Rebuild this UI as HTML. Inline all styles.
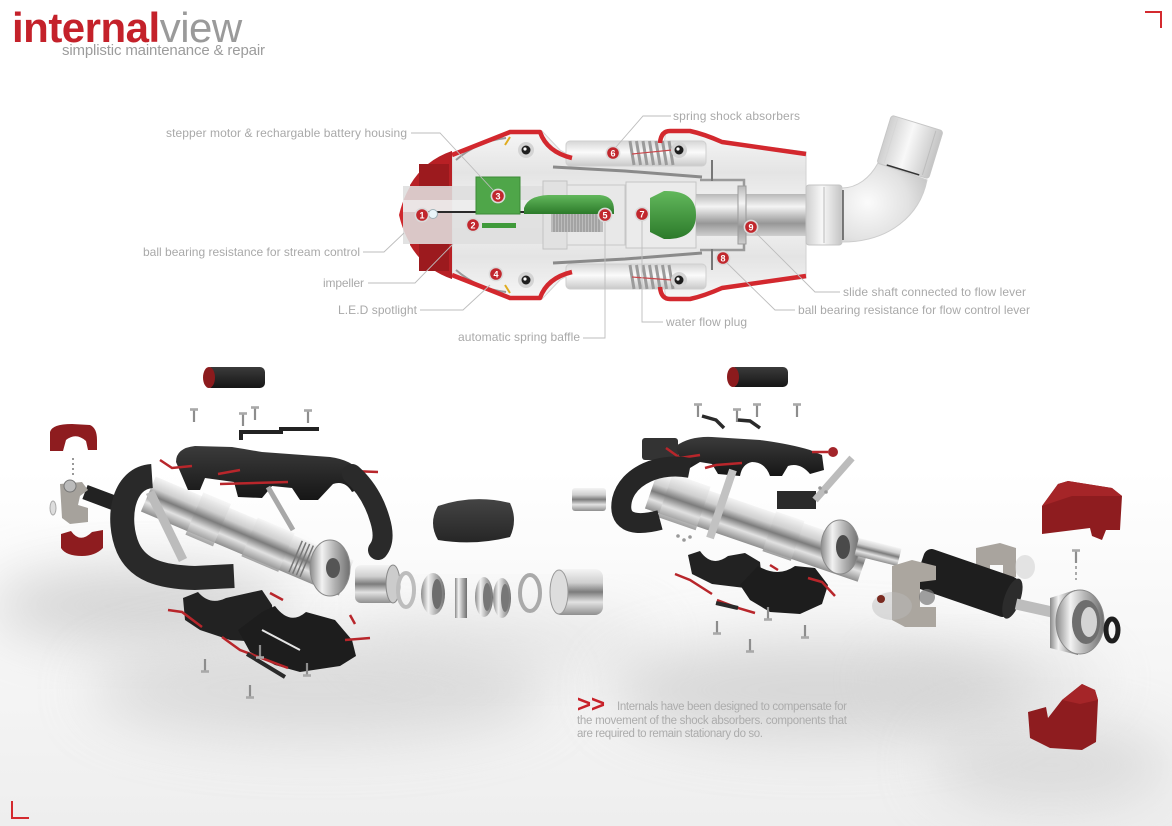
<!DOCTYPE html>
<html><head><meta charset="utf-8">
<style>
html,body{margin:0;padding:0;background:#fff;}
svg{display:block;}
text{font-family:"Liberation Sans",Arial,sans-serif;}
</style></head><body>
<svg width="1172" height="826" viewBox="0 0 1172 826" xmlns="http://www.w3.org/2000/svg">
<defs>
 <linearGradient id="floor" x1="0" y1="0" x2="0" y2="1">
  <stop offset="0" stop-color="#ffffff"/><stop offset="1" stop-color="#eeeeee"/>
 </linearGradient>
 <filter id="b30" x="-60%" y="-60%" width="220%" height="220%"><feGaussianBlur stdDeviation="28"/></filter>
 <filter id="b10" x="-60%" y="-60%" width="220%" height="220%"><feGaussianBlur stdDeviation="10"/></filter>
 <linearGradient id="met" x1="0" y1="0" x2="0" y2="1">
  <stop offset="0" stop-color="#f4f4f4"/><stop offset=".3" stop-color="#cfcfcf"/><stop offset=".5" stop-color="#7c7c7c"/><stop offset=".72" stop-color="#e2e2e2"/><stop offset="1" stop-color="#8f8f8f"/>
 </linearGradient>
 <linearGradient id="metH" x1="0" y1="0" x2="1" y2="0">
  <stop offset="0" stop-color="#8a8a8a"/><stop offset=".3" stop-color="#f2f2f2"/><stop offset=".6" stop-color="#b5b5b5"/><stop offset="1" stop-color="#6f6f6f"/>
 </linearGradient>
 <linearGradient id="blk" x1="0" y1="0" x2="0" y2="1">
  <stop offset="0" stop-color="#3b3b3b"/><stop offset="1" stop-color="#161616"/>
 </linearGradient>
 <linearGradient id="pad" x1="0" y1="0" x2="0" y2="1">
  <stop offset="0" stop-color="#444"/><stop offset="1" stop-color="#262626"/>
 </linearGradient>
 <linearGradient id="tube" x1="0" y1="0" x2="0" y2="1">
  <stop offset="0" stop-color="#d6d6d6"/><stop offset=".45" stop-color="#fbfbfb"/><stop offset="1" stop-color="#c9c9c9"/>
 </linearGradient>
 <linearGradient id="tubeH" x1="0" y1="0" x2="1" y2="0">
  <stop offset="0" stop-color="#cfcfcf"/><stop offset=".45" stop-color="#f8f8f8"/><stop offset="1" stop-color="#c4c4c4"/>
 </linearGradient>
 <linearGradient id="bodyG" x1="0" y1="0" x2="0" y2="1">
  <stop offset="0" stop-color="#f6f6f6"/><stop offset=".25" stop-color="#e4e4e4"/><stop offset=".5" stop-color="#f5f5f5"/><stop offset=".75" stop-color="#e4e4e4"/><stop offset="1" stop-color="#f6f6f6"/>
 </linearGradient>
 <linearGradient id="green" x1="0" y1="0" x2="0" y2="1">
  <stop offset="0" stop-color="#62b85c"/><stop offset="1" stop-color="#2c7a2a"/>
 </linearGradient>
 <linearGradient id="shaft" x1="0" y1="0" x2="0" y2="1">
  <stop offset="0" stop-color="#b8b8b8"/><stop offset=".3" stop-color="#f4f4f4"/><stop offset=".7" stop-color="#979797"/><stop offset="1" stop-color="#cfcfcf"/>
 </linearGradient>
 <radialGradient id="elb" cx="0.3" cy="0.5" r="0.8">
  <stop offset="0" stop-color="#fbfbfb"/><stop offset=".6" stop-color="#e2e2e2"/><stop offset="1" stop-color="#c2c2c2"/>
 </radialGradient>
 <g id="scr"><line x1="0" y1="0" x2="0" y2="13" stroke="#8d8d8d" stroke-width="2.2"/><line x1="-4" y1="0.5" x2="4" y2="0.5" stroke="#a9a9a9" stroke-width="2.6"/></g>
 <g id="mk"><circle r="6.6" fill="#c1272d" stroke="#dadada" stroke-width="1.6"/></g>
</defs>

<!-- background -->
<rect width="1172" height="826" fill="#fff"/>
<rect x="0" y="470" width="1172" height="356" fill="url(#floor)"/>
<ellipse cx="140" cy="605" rx="150" ry="38" fill="#b5b5b5" opacity=".55" filter="url(#b30)"/>
<ellipse cx="320" cy="690" rx="230" ry="50" fill="#c6c6c6" opacity=".55" filter="url(#b30)"/>
<ellipse cx="500" cy="640" rx="160" ry="30" fill="#d2d2d2" opacity=".45" filter="url(#b30)"/>
<ellipse cx="820" cy="690" rx="210" ry="50" fill="#bfbfbf" opacity=".55" filter="url(#b30)"/>
<ellipse cx="1050" cy="765" rx="120" ry="40" fill="#c4c4c4" opacity=".5" filter="url(#b30)"/>
<ellipse cx="990" cy="680" rx="120" ry="30" fill="#d0d0d0" opacity=".45" filter="url(#b30)"/>

<!-- header -->
<text x="12" y="42" font-size="42"><tspan font-weight="bold" fill="#c4212a" letter-spacing="-0.5">internal</tspan><tspan fill="#9a9a9a" letter-spacing="-0.5">view</tspan></text>
<text x="62" y="55" font-size="15" fill="#9c9c9c" textLength="203">simplistic maintenance &amp; repair</text>

<!-- corners -->
<path d="M1145,12 L1161,12 L1161,28" stroke="#d42a2f" stroke-width="2" fill="none"/>
<path d="M12,801 L12,818 L29,818" stroke="#d42a2f" stroke-width="2" fill="none"/>

<!-- ============ TOP DIAGRAM ============ -->
<g>
 <path d="M452,153 L510,131 L542,131 L560,150 L572,157 L662,157 L666,131 L692,131 L722,141 L806,152 L806,278 L722,289 L692,299 L666,299 L662,273 L572,273 L560,280 L542,299 L510,299 L452,277 Z" fill="url(#bodyG)" stroke="#d2d2d2"/>
 <rect x="566" y="141" width="140" height="25" rx="4" fill="url(#tube)" stroke="#cfcfcf"/>
 <rect x="566" y="264" width="140" height="25" rx="4" fill="url(#tube)" stroke="#cfcfcf"/>
 <g stroke="#9b9b9b" stroke-width="3">
  <path d="M630,141 L634,165 M636.5,141 L640.5,165 M643,141 L647,165 M649.5,141 L653.5,165 M656,141 L660,165 M662.5,141 L666.5,165 M669,141 L673,165"/>
  <path d="M630,265 L634,289 M636.5,265 L640.5,289 M643,265 L647,289 M649.5,265 L653.5,289 M656,265 L660,289 M662.5,265 L666.5,289 M669,265 L673,289"/>
 </g>
 <path d="M632,154 L672,150 M632,277 L672,280" stroke="#c9474b" stroke-width="1.2"/>
 <g>
  <circle cx="526" cy="150" r="8" fill="#d4d4d4"/><circle cx="526" cy="150" r="4.5" fill="#1e1e1e"/><circle cx="525" cy="149" r="1.6" fill="#fff"/>
  <circle cx="679" cy="150" r="8" fill="#d4d4d4"/><circle cx="679" cy="150" r="4.5" fill="#1e1e1e"/><circle cx="678" cy="149" r="1.6" fill="#fff"/>
  <circle cx="526" cy="280" r="8" fill="#d4d4d4"/><circle cx="526" cy="280" r="4.5" fill="#1e1e1e"/><circle cx="525" cy="279" r="1.6" fill="#fff"/>
  <circle cx="679" cy="280" r="8" fill="#d4d4d4"/><circle cx="679" cy="280" r="4.5" fill="#1e1e1e"/><circle cx="678" cy="279" r="1.6" fill="#fff"/>
 </g>
 <path d="M456,160 Q478,141 506,138" stroke="#9a9a9a" stroke-width="2" fill="none"/>
 <path d="M456,270 Q478,289 506,292" stroke="#9a9a9a" stroke-width="2" fill="none"/>
 <path d="M505,145 L510,137 M505,285 L510,293" stroke="#e0ac20" stroke-width="2"/>
 <g stroke="#d3282e" stroke-width="4.5" fill="none" stroke-linejoin="round">
  <path d="M452,155 L510,132 L540,132 Q547,152 572,158"/>
  <path d="M660,143 Q661,131 670,131 L690,131 Q704,134 722,142 L806,154"/>
 </g>
 <g stroke="#d3282e" stroke-width="4.5" fill="none" stroke-linejoin="round" transform="matrix(1 0 0 -1 0 430)">
  <path d="M452,155 L510,132 L540,132 Q547,152 572,158"/>
  <path d="M660,143 Q661,131 670,131 L690,131 Q704,134 722,142 L806,154"/>
 </g>
 <path d="M452,151 L452,279 Q410,262 399,215 Q410,168 452,151 Z" fill="#cf272d"/>
 <path d="M452,151 Q425,160 410,185 L410,245 Q425,270 452,279 Z" fill="#b82025"/>
 <rect x="419" y="164" width="30" height="24" fill="#9c1a1e"/>
 <rect x="419" y="244" width="30" height="27" fill="#9c1a1e"/>
 <rect x="403" y="186" width="145" height="58" fill="#dedede" opacity=".88"/>
 <rect x="403" y="200" width="145" height="12" fill="#f2f2f2" opacity=".7"/>
 <line x1="418" y1="212" x2="545" y2="212" stroke="#2a2a2a" stroke-width="2"/>
 <circle cx="433" cy="214" r="4.5" fill="#e9f5f9" stroke="#9fb2b8"/>
 <rect x="543" y="181" width="24" height="68" fill="#e1e1e1" stroke="#c2c2c2"/>
 <rect x="567" y="185" width="58" height="60" fill="#e8e8e8" stroke="#c8c8c8"/>
 <rect x="626" y="182" width="70" height="66" fill="#ebebeb" stroke="#c4c4c4"/>
 <path d="M553,167 L625,171 L702,177" stroke="#8a8a8a" stroke-width="3" fill="none"/>
 <path d="M553,263 L625,259 L702,253" stroke="#8a8a8a" stroke-width="3" fill="none"/>
 <rect x="696" y="194" width="110" height="42" fill="url(#shaft)"/>
 <rect x="738" y="186" width="8" height="58" fill="url(#shaft)" stroke="#9a9a9a"/>
 <path d="M700,180 L744,180 L744,186 M700,250 L744,250 L744,244" stroke="#9a9a9a" stroke-width="2.5" fill="none"/>
 <path d="M712,160 L712,181 M712,249 L712,270" stroke="#777" stroke-width="2"/>
 <rect x="476" y="177" width="44" height="37" fill="#4fa649" stroke="#3c8a37"/>
 <rect x="482" y="223" width="34" height="5" fill="#3f9a3a"/>
 <path d="M524,208 Q528,196 548,195 L600,195 Q614,196 614,210 L614,214 L524,214 Z" fill="url(#green)"/>
 <rect x="551" y="214" width="52" height="18" fill="#bcbcbc"/>
 <path d="M554,214 V232 M557,214 V232 M560,214 V232 M563,214 V232 M566,214 V232 M569,214 V232 M572,214 V232 M575,214 V232 M578,214 V232 M581,214 V232 M584,214 V232 M587,214 V232 M590,214 V232 M593,214 V232 M596,214 V232 M599,214 V232" stroke="#8a8a8a" stroke-width="1"/>
 <path d="M650,198 L664,191 Q696,190 696,215 Q696,240 664,239 L650,232 Z" fill="url(#green)"/>
 <rect x="806" y="185" width="36" height="60" rx="3" fill="url(#tubeH)" stroke="#c4c4c4"/>
 <line x1="824" y1="187" x2="824" y2="243" stroke="#bdbdbd"/>
 <path d="M842,188 C857,188 870,178 878,163 L927,180 C920,215 890,242 842,242 Z" fill="url(#elb)" stroke="#cdcdcd"/>
 <line x1="843" y1="190" x2="843" y2="240" stroke="#555" stroke-width="1.5"/>
 <g transform="rotate(17 910 147)">
  <rect x="883" y="122" width="54" height="50" rx="3" fill="url(#tubeH)" stroke="#c6c6c6"/>
  <line x1="890" y1="124" x2="890" y2="170" stroke="#d6d6d6"/>
  <line x1="930" y1="124" x2="930" y2="170" stroke="#bdbdbd"/>
  <line x1="893" y1="171" x2="927" y2="171" stroke="#333" stroke-width="1.5"/>
 </g>
 <g font-size="9" font-weight="bold" fill="#fff" text-anchor="middle">
  <use href="#mk" x="422" y="215"/><text x="422" y="218.3">1</text>
  <use href="#mk" x="473" y="225"/><text x="473" y="228.3">2</text>
  <use href="#mk" x="498" y="196"/><text x="498" y="199.3">3</text>
  <use href="#mk" x="496" y="274"/><text x="496" y="277.3">4</text>
  <use href="#mk" x="605" y="215"/><text x="605" y="218.3">5</text>
  <use href="#mk" x="613" y="153"/><text x="613" y="156.3">6</text>
  <use href="#mk" x="642" y="214"/><text x="642" y="217.3">7</text>
  <use href="#mk" x="723" y="258"/><text x="723" y="261.3">8</text>
  <use href="#mk" x="751" y="227"/><text x="751" y="230.3">9</text>
 </g>
 <g stroke="#bdbdbd" stroke-width="0.9" fill="none">
  <path d="M411,133 L440,133 L493,190"/>
  <path d="M363,252 L384,252 L404,233"/>
  <path d="M368,283 L415,283 L453,244"/>
  <path d="M420,310 L463,310 L490,285"/>
  <path d="M583,338 L605,338 L605,222"/>
  <path d="M671,116 L643,116 L616,147"/>
  <path d="M663,322 L642,322 L642,221"/>
  <path d="M840,292 L815,292 L755,232"/>
  <path d="M795,310 L775,310 L727,263"/>
 </g>
 <g font-size="12" fill="#a9a9a9">
  <text x="166" y="137" textLength="241">stepper motor &amp; rechargable battery housing</text>
  <text x="143" y="256" textLength="217">ball bearing resistance for stream control</text>
  <text x="323" y="287" textLength="41">impeller</text>
  <text x="338" y="314" textLength="79">L.E.D spotlight</text>
  <text x="458" y="341" textLength="122">automatic spring baffle</text>
  <text x="673" y="120" textLength="127">spring shock absorbers</text>
  <text x="666" y="326" textLength="81">water flow plug</text>
  <text x="843" y="296" textLength="183">slide shaft connected to flow lever</text>
  <text x="798" y="314" textLength="232">ball bearing resistance for flow control lever</text>
 </g>
</g>

<!-- ============ LEFT EXPLODED ============ -->
<g>
 <rect x="206" y="367" width="59" height="21" rx="5" fill="url(#blk)"/>
 <ellipse cx="209" cy="377.5" rx="6" ry="10.5" fill="#8c1b1d"/>
 <use href="#scr" x="194" y="409"/><use href="#scr" x="243" y="413"/><use href="#scr" x="255" y="407"/><use href="#scr" x="308" y="410"/>
 <path d="M241,440 L241,432 L281,432 L281,429 L319,429" stroke="#222" stroke-width="4" fill="none"/>
 <path d="M50,451 L50,432 Q52,424 72,424 L90,425 Q97,428 97,440 L97,450 L88,450 L86,441 Q76,432 66,440 L63,451 Z" fill="#8e1c1f"/>
 <path d="M61,534 L71,531 Q80,544 92,532 L103,530 L103,548 Q95,556 82,556 Q66,556 61,548 Z" fill="#8e1c1f"/>
 <line x1="73" y1="458" x2="73" y2="475" stroke="#999" stroke-width="2" stroke-dasharray="2 3"/>
 <line x1="85" y1="492" x2="125" y2="507" stroke="#222" stroke-width="15"/>
 <path d="M60,484 L82,482 L88,490 L80,496 L78,505 L88,508 L88,522 L70,524 L62,518 Z" fill="#a6a29c"/>
 <circle cx="70" cy="486" r="6" fill="#bbb" stroke="#777"/>
 <ellipse cx="53" cy="508" rx="3" ry="7" fill="#ddd" stroke="#aaa"/>
 <path d="M176,462 Q176,448 195,446 L232,447 Q250,450 262,452 L330,457 Q352,460 360,472 L362,488 L352,492 Q345,480 333,484 L318,500 L300,500 L292,488 L272,486 L262,498 L238,497 L234,482 L205,478 L200,490 L188,490 L182,476 Z" fill="url(#blk)"/>
 <path d="M160,460 L172,468 L192,466 M218,474 L240,470 M220,484 L288,482 M352,471 L378,472" stroke="#b8262b" stroke-width="2.5" fill="none"/>
 <line x1="268" y1="487" x2="293" y2="530" stroke="#a8a8a8" stroke-width="5"/>
 <g transform="rotate(23 245 535)">
  <rect x="140" y="516" width="215" height="38" fill="url(#met)"/>
  <rect x="190" y="512" width="30" height="46" fill="url(#met)" opacity=".8"/>
  <rect x="250" y="514" width="40" height="42" fill="url(#met)" opacity=".8"/>
  <path d="M300,518 V552 M304,518 V552 M308,518 V552 M312,518 V552" stroke="#777" stroke-width="1.5"/>
 </g>
 <ellipse cx="330" cy="568" rx="20" ry="28" fill="url(#metH)" stroke="#8a8a8a"/>
 <ellipse cx="333" cy="568" rx="7" ry="10" fill="#555"/>
 <line x1="150" y1="492" x2="183" y2="560" stroke="#bcbcbc" stroke-width="9"/>
 <path d="M152,476 C122,478 116,520 128,548 C138,570 160,577 195,578 L234,576" stroke="#292929" stroke-width="24" fill="none"/>
 <path d="M352,474 Q372,492 380,520 Q386,540 378,550" stroke="#2a2a2a" stroke-width="20" fill="none" stroke-linecap="round"/>
 <rect x="355" y="565" width="40" height="38" rx="6" fill="url(#met)"/>
 <ellipse cx="393" cy="584" rx="7" ry="19" fill="#ccc" stroke="#888"/>
 <ellipse cx="406" cy="590" rx="8" ry="17" fill="none" stroke="#bdbdbd" stroke-width="4"/>
 <ellipse cx="433" cy="594" rx="12" ry="21" fill="url(#metH)"/><ellipse cx="437" cy="594" rx="5" ry="15" fill="#6d6d6d"/>
 <rect x="455" y="578" width="12" height="40" fill="url(#metH)"/>
 <ellipse cx="484" cy="597" rx="9" ry="20" fill="url(#metH)"/><ellipse cx="487" cy="597" rx="4" ry="14" fill="#777"/>
 <ellipse cx="502" cy="598" rx="9" ry="20" fill="url(#metH)"/><ellipse cx="505" cy="598" rx="4" ry="14" fill="#777"/>
 <ellipse cx="530" cy="593" rx="10" ry="18" fill="none" stroke="#aaa" stroke-width="4"/>
 <rect x="553" y="569" width="50" height="46" rx="8" fill="url(#met)"/>
 <ellipse cx="559" cy="592" rx="9" ry="22" fill="#ddd" stroke="#999"/>
 <!-- pad + small cylinder -->
 <path d="M438,506 Q474,494 510,503 Q518,520 510,537 Q474,546 438,540 Q428,523 438,506 Z" fill="url(#pad)"/>
 <rect x="572" y="488" width="34" height="23" rx="3" fill="url(#met)"/>
 <path d="M183,598 L198,592 Q210,606 226,598 L262,590 L272,605 L274,636 L262,642 L230,640 L200,630 L185,620 Z" fill="#222"/>
 <path d="M238,630 L262,612 L275,606 Q290,626 306,612 L335,620 L352,640 L356,656 L340,666 L300,672 L275,665 L250,652 Z" fill="#1d1d1d"/>
 <path d="M262,630 L300,650" stroke="#e5e5e5" stroke-width="2"/>
 <path d="M168,610 L182,612 L202,627 M222,637 L240,650 L288,668 M270,593 L283,600 M345,640 L370,638 M355,624 L350,615" stroke="#b8262b" stroke-width="2.5" fill="none"/>
 <path d="M247,654 L285,677" stroke="#2a2a2a" stroke-width="4"/>
 <use href="#scr" transform="translate(205,672) scale(1,-1)"/>
 <use href="#scr" transform="translate(307,676) scale(1,-1)"/>
 <use href="#scr" transform="translate(250,698) scale(1,-1)"/>
 <use href="#scr" transform="translate(260,658) scale(1,-1)"/>
</g>

<!-- ============ RIGHT EXPLODED ============ -->
<g>
 <rect x="730" y="367" width="58" height="20" rx="5" fill="url(#blk)"/>
 <ellipse cx="733" cy="377" rx="6" ry="10" fill="#8c1b1d"/>
 <use href="#scr" x="698" y="404"/><use href="#scr" x="737" y="409"/><use href="#scr" x="757" y="404"/><use href="#scr" x="797" y="404"/>
 <path d="M702,416 L716,420 L724,428 M738,420 L750,421 L760,428" stroke="#2a2a2a" stroke-width="3.5" fill="none"/>
 <rect x="642" y="438" width="36" height="22" rx="3" fill="#333"/>
 <path d="M676,446 Q690,436 712,437 L760,440 Q790,444 810,450 L822,455 L824,470 L810,474 Q800,462 788,466 L782,476 L770,476 Q765,462 752,462 Q742,464 740,476 L718,474 L712,464 L700,462 L690,468 L680,462 Z" fill="url(#blk)"/>
 <circle cx="833" cy="452" r="5" fill="#a3252a"/>
 <path d="M666,448 L680,458 L700,455 M705,468 L716,465 L742,463 M812,452 L828,452" stroke="#b8262b" stroke-width="2.5" fill="none"/>
 <g transform="rotate(19 757 527)">
  <rect x="645" y="508" width="225" height="38" fill="url(#met)"/>
  <rect x="660" y="504" width="40" height="46" fill="url(#met)" opacity=".85"/>
  <rect x="770" y="506" width="30" height="42" fill="url(#met)" opacity=".85"/>
 </g>
 <ellipse cx="840" cy="547" rx="19" ry="27" fill="url(#metH)" stroke="#8a8a8a"/>
 <ellipse cx="843" cy="547" rx="7" ry="12" fill="#4a4a4a"/>
 <path d="M690,468 C660,462 628,475 622,500 C618,520 630,528 660,520" stroke="#262626" stroke-width="20" fill="none"/>
 <line x1="733" y1="470" x2="710" y2="538" stroke="#c2c2c2" stroke-width="8"/>
 <line x1="777" y1="500" x2="816" y2="500" stroke="#2a2a2a" stroke-width="18"/>
 <line x1="815" y1="500" x2="852" y2="458" stroke="#bcbcbc" stroke-width="7"/>
 <g transform="rotate(14 878 552)"><rect x="856" y="543" width="44" height="18" fill="url(#met)"/></g>
 <path d="M976,548 L1000,543 L1016,548 L1016,577 L1003,577 L1003,565 L990,565 L990,577 L976,577 Z" fill="#a9a49e"/>
 <g transform="rotate(19 967 583)">
  <rect x="917" y="562" width="100" height="42" rx="8" fill="#1e1e1e"/>
  <ellipse cx="1015" cy="583" rx="8" ry="21" fill="#2c2c2c"/>
 </g>
 <path d="M892,566 L912,560 L936,566 L936,580 L920,582 L920,607 L936,607 L936,627 L905,627 L892,620 Z" fill="#aba69f"/>
 <circle cx="927" cy="597" r="8" fill="#777" opacity=".7"/>
 <ellipse cx="892" cy="606" rx="20" ry="14" fill="#bbb" opacity=".45"/>
 <circle cx="881" cy="599" r="4" fill="#7a2a20"/>
 <ellipse cx="1025" cy="567" rx="10" ry="12" fill="#ccc" opacity=".5"/>
 <line x1="1016" y1="604" x2="1052" y2="612" stroke="#bdbdbd" stroke-width="11"/>
 <path d="M1050,598 L1075,590 L1078,655 L1050,648 Z" fill="url(#metH)"/>
 <ellipse cx="1080" cy="622" rx="24" ry="32" fill="url(#metH)" stroke="#8a8a8a"/>
 <ellipse cx="1086" cy="622" rx="14" ry="22" fill="#6e6e6e"/>
 <ellipse cx="1089" cy="622" rx="8" ry="15" fill="#d4d4d4"/>
 <ellipse cx="1112" cy="630" rx="6" ry="11" fill="none" stroke="#1e1e1e" stroke-width="5"/>
 <use href="#scr" x="1076" y="550"/>
 <line x1="1076" y1="566" x2="1076" y2="580" stroke="#aaa" stroke-width="2" stroke-dasharray="3 3"/>
 <path d="M1042,506 L1058,484 L1068,481 L1112,488 L1122,496 L1120,530 L1106,530 L1102,540 L1092,536 L1090,528 L1058,532 L1042,534 Z" fill="#8e1c1f"/>
 <path d="M1058,484 L1068,481 L1112,488 L1122,496 L1072,496 L1042,506 Z" fill="#a52528"/>
 <path d="M1028,712 L1046,707 L1048,718 L1062,700 L1082,684 L1095,690 L1098,700 L1096,742 L1082,750 L1050,748 L1030,738 Z" fill="#8e1c1f"/>
 <path d="M1062,700 L1082,684 L1095,690 L1098,700 L1080,704 Z" fill="#a52528"/>
 <path d="M688,555 L700,551 Q712,568 728,556 L745,553 L760,562 L762,580 L745,588 L712,584 L692,574 Z" fill="#222"/>
 <path d="M740,585 L758,566 Q778,578 795,566 L815,568 L828,585 L822,604 L800,614 L770,612 L750,600 Z" fill="#1d1d1d"/>
 <path d="M675,574 L690,580 L712,594 M717,600 L738,608 L755,613 M808,578 L822,582 L835,596 M770,565 L778,570" stroke="#b8262b" stroke-width="2.5" fill="none"/>
 <path d="M716,603 L738,608" stroke="#2a2a2a" stroke-width="4"/>
 <use href="#scr" transform="translate(717,634) scale(1,-1)"/>
 <use href="#scr" transform="translate(750,652) scale(1,-1)"/>
 <use href="#scr" transform="translate(768,620) scale(1,-1)"/>
 <use href="#scr" transform="translate(805,638) scale(1,-1)"/>
 <g fill="#999"><circle cx="678" cy="536" r="1.8"/><circle cx="684" cy="540" r="1.8"/><circle cx="690" cy="537" r="1.8"/><circle cx="820" cy="488" r="1.8"/><circle cx="826" cy="492" r="1.8"/></g>
</g>

<!-- bottom note -->
<text x="577" y="712" font-size="24" font-weight="bold" fill="#c8222a">&gt;&gt;</text>
<g font-size="11.5" fill="#acacac">
 <text x="617" y="710" textLength="230">Internals have been designed to compensate for</text>
 <text x="577" y="724" textLength="270">the movement of the shock absorbers. components that</text>
 <text x="577" y="737" textLength="186">are required to remain stationary do so.</text>
</g>
</svg>
</body></html>
